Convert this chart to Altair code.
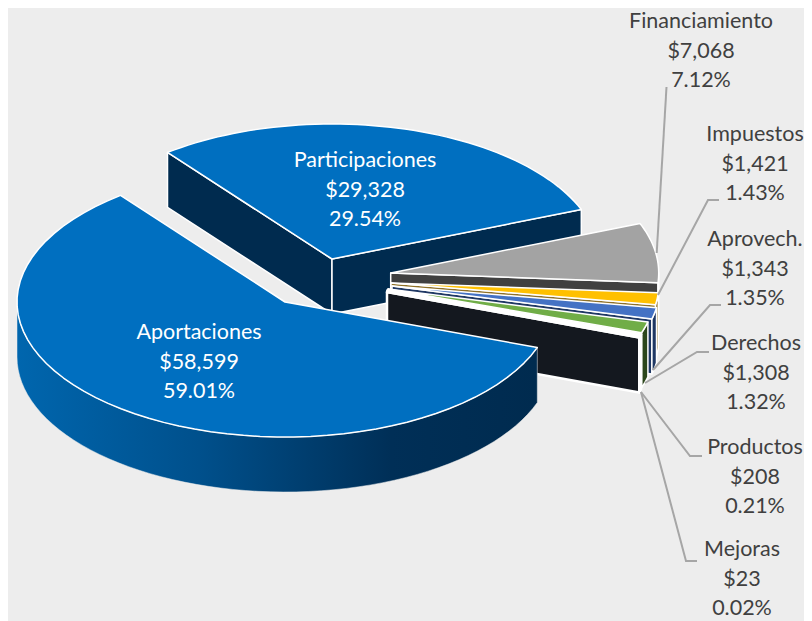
import numpy as np
import pandas as pd
import altair as alt

# ---- data
names = ["Aportaciones", "Participaciones", "Financiamiento", "Impuestos",
         "Aprovech.", "Derechos", "Productos", "Mejoras"]
amounts = [58599, 29328, 7068, 1421, 1343, 1308, 208, 23]
percents = [59.01, 29.54, 7.12, 1.43, 1.35, 1.32, 0.21, 0.02]

# ---- styling / layout
tops = ["#006FC0", "#006FC0", "#A3A3A3", "#FFC000", "#4472C4", "#70AD47", "#E4EBF4", "#14181F"]
rims = ["#002B4F", "#002B4F", "#404040", "#8F7128", "#1F3864", "#2C471C", "#F4F4F4", "#F4F4F4"]
faces = ["#002B4F", "#002B4F", "#404040", "#8F7128", "#1F3864", "#2C471C", "#F4F4F4", "#14181F"]
apex_x = [285, 332, 390.7, 391, 392, 388, 387.5, 387]
apex_y = [302, 259, 273, 283, 286, 289, 290.5, 292]
RX, RY, DEPTH, START = 268, 135, 55, 109.7
label_x = [199, 365, 701, 755, 755, 756, 755, 742]
label_y = [333, 161, 22, 135, 240, 344, 448, 550]
label_colors = ["white", "white"] + ["#404040"] * 6
LEAD = [[(666.5, 87), (656.7, 253)],
        [(719, 200), (708, 200), (658, 295)],
        [(721, 305), (710, 305), (653, 370)],
        [(709, 352), (697, 352), (645, 383)],
        [(702, 456), (690, 456), (641, 392)],
        [(697, 561), (686, 561), (641, 392)]]

X = alt.X("x:Q", axis=None, scale=alt.Scale(domain=[8, 804], nice=False, zero=False))
Y = alt.Y("y:Q", axis=None, scale=alt.Scale(domain=[8, 621], reverse=True, nice=False, zero=False))


def rim(i, a, b, dy=0.0, n=60):
    t = np.radians(np.linspace(a, b, n))
    return list(zip(apex_x[i] + RX * np.sin(t), apex_y[i] - RY * np.cos(t) + dy))


def poly(pts, fill, stroke="white", sw=1.5):
    df = pd.DataFrame(pts, columns=["x", "y"])
    df["i"] = range(len(df))
    return alt.Chart(df).mark_line(
        interpolate="linear-closed", fill=fill, stroke=stroke, strokeWidth=sw,
        strokeJoin="round", clip=False,
    ).encode(x=X, y=Y, order="i:Q")


spans = np.array(percents) * 3.6
edges = START + np.concatenate([[0], np.cumsum(spans)])
layers = []


def apex(i, dy=0.0):
    return [(apex_x[i], apex_y[i] + dy)]


def face(i, ang):
    r = rim(i, ang, ang, n=1)
    r2 = rim(i, ang, ang, DEPTH, n=1)
    return apex(i) + r + r2 + apex(i, DEPTH)


def top(i, sw=1.5):
    return poly(apex(i) + rim(i, edges[i], edges[i + 1]), tops[i], sw=sw)


# Participaciones (back)
layers += [poly(face(1, edges[1]), faces[1]), poly(face(1, edges[2]), faces[1]), top(1)]
# small slices, drawn back to front; only the front part of a rim is visible
for i in range(2, 8):
    sw = 2.5 if i >= 6 else 1.5
    a, b = max(edges[i], 450.0), edges[i + 1]
    layers.append(poly(face(i, b), faces[i], sw=sw))
    layers.append(poly(rim(i, a, b) + rim(i, b, a, DEPTH), rims[i], sw=sw))
    layers.append(top(i, sw=sw))
# Aportaciones (front)
side = rim(0, edges[0], 270) + rim(0, 270, edges[0], DEPTH)
grad = alt.LinearGradient(
    gradient="linear", x1=0, x2=1, y1=0, y2=0,
    stops=[alt.GradientStop(offset=0, color="#0066AE"),
           alt.GradientStop(offset=0.35, color="#00508C"),
           alt.GradientStop(offset=0.72, color="#002F57"),
           alt.GradientStop(offset=1, color="#002B4F")],
)
layers += [poly(side, grad, stroke="#EDEDED", sw=0.5), top(0)]

# leader lines
for pts in LEAD:
    df = pd.DataFrame(pts, columns=["x", "y"])
    df["i"] = range(len(df))
    layers.append(alt.Chart(df).mark_line(color="#A6A6A6", strokeWidth=2).encode(x=X, y=Y, order="i:Q"))

# labels
rows = []
for n, a, p, x, y, c in zip(names, amounts, percents, label_x, label_y, label_colors):
    for k, s in enumerate([n, f"${a:,}", f"{p:.2f}%"]):
        rows.append({"x": x, "y": y + k * 29.5, "t": s, "c": c})
labels = alt.Chart(pd.DataFrame(rows)).mark_text(
    font="Lato", fontSize=21.5, align="center", baseline="middle"
).encode(x=X, y=Y, text="t:N", color=alt.Color("c:N", scale=None))
layers.append(labels)

chart = alt.layer(*layers).properties(
    width=796, height=613, background="#EDEDED", padding=0,
    autosize=alt.AutoSizeParams(type="none"),
).configure_view(stroke=None)

chart.save("out.html", embed_options={"renderer": "svg", "actions": False})
